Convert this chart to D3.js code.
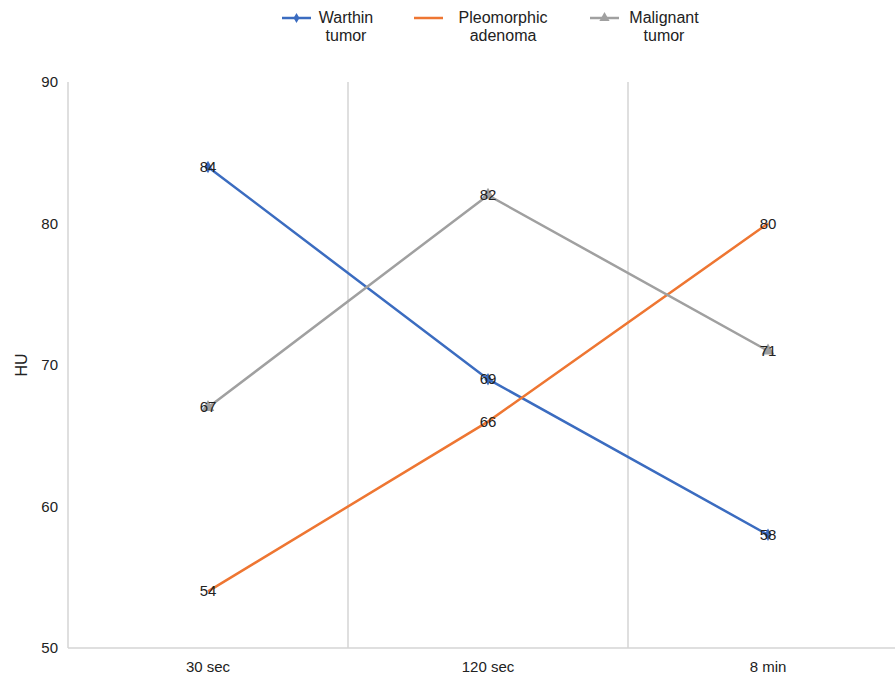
<!DOCTYPE html>
<html>
<head>
<meta charset="utf-8">
<script src="https://cdn.jsdelivr.net/npm/d3@7"></script>
<style>
  body { margin: 0; background: #fff; }
  text { font-family: "Liberation Sans", Arial, sans-serif; fill: #222; }
</style>
</head>
<body>
<script>
let categories = ['30 sec', '120 sec', '8 min']
let warthin = [84, 69, 58]
let pleomorphic = [54, 66, 80]
let malignant = [67, 82, 71]
let yTicks = [50, 60, 70, 80, 90]
let seriesNames = [['Warthin', 'tumor'], ['Pleomorphic', 'adenoma'], ['Malignant', 'tumor']]

let series = [
    {name: seriesNames[0], values: warthin, color: '#3b6cc0', marker: 'diamond'},
    {name: seriesNames[1], values: pleomorphic, color: '#ee7632', marker: 'none'},
    {name: seriesNames[2], values: malignant, color: '#a0a0a0', marker: 'triangle'}
]

let svg = d3.select('body')
    .append('svg')
    .attr('width', 895)
    .attr('height', 674)

let plotLeft = 68, plotTop = 82, plotBottom = 648

let x = d3.scaleBand()
    .domain(categories)
    .range([plotLeft, plotLeft + 840])

let y = d3.scaleLinear()
    .domain([50, 90])
    .range([plotBottom, plotTop])

// vertical separators between categories
categories.slice(1).forEach(c => {
    svg.append('line')
        .attr('x1', x(c)).attr('x2', x(c))
        .attr('y1', plotTop).attr('y2', plotBottom)
        .style('stroke', '#d4d4d4')
        .style('stroke-width', 1.5)
})

svg.append('line')
    .attr('x1', plotLeft).attr('x2', plotLeft)
    .attr('y1', plotTop).attr('y2', plotBottom)
    .style('stroke', '#d4d4d4').style('stroke-width', 1.5)

svg.append('line')
    .attr('x1', plotLeft).attr('x2', plotLeft + 840)
    .attr('y1', plotBottom).attr('y2', plotBottom)
    .style('stroke', '#d4d4d4').style('stroke-width', 1.5)

svg.selectAll('.ytick')
    .data(yTicks)
    .enter()
    .append('text')
    .attr('x', 58)
    .attr('y', d => y(d) + 5)
    .attr('text-anchor', 'end')
    .style('font-size', '15px')
    .text(d => d)

svg.selectAll('.xtick')
    .data(categories)
    .enter()
    .append('text')
    .attr('x', d => x(d) + x.bandwidth() / 2)
    .attr('y', 672)
    .attr('text-anchor', 'middle')
    .style('font-size', '15px')
    .text(d => d)

svg.append('text')
    .attr('transform', 'translate(27,365) rotate(-90)')
    .attr('text-anchor', 'middle')
    .style('font-size', '16px')
    .text('HU')

let cx = d => x(d) + x.bandwidth() / 2
let line = d3.line()
    .x((d, i) => cx(categories[i]))
    .y(d => y(d))

series.forEach(s => {
    svg.append('path')
        .attr('d', line(s.values))
        .style('fill', 'none')
        .style('stroke', s.color)
        .style('stroke-width', 2.5)

    if (s.marker !== 'none') {
        let sym = s.marker === 'diamond' ? d3.symbolDiamond : d3.symbolTriangle
        svg.selectAll(null)
            .data(s.values)
            .enter()
            .append('path')
            .attr('d', d3.symbol().type(sym).size(s.marker === 'diamond' ? 45 : 70))
            .attr('transform', (d, i) => `translate(${cx(categories[i])},${y(d)})`)
            .style('fill', s.color)
    }
})

series.forEach(s => {
    svg.selectAll(null)
        .data(s.values)
        .enter()
        .append('text')
        .attr('x', (d, i) => cx(categories[i]))
        .attr('y', d => y(d) + 5)
        .attr('text-anchor', 'middle')
        .style('font-size', '15px')
        .text(d => d)
})

// legend
let legendX = [282, 414, 590]
let legendText = [346, 503, 664]
series.forEach((s, i) => {
    svg.append('line')
        .attr('x1', legendX[i]).attr('x2', legendX[i] + 29)
        .attr('y1', 18).attr('y2', 18)
        .style('stroke', s.color)
        .style('stroke-width', 2.5)
    if (s.marker !== 'none') {
        let sym = s.marker === 'diamond' ? d3.symbolDiamond : d3.symbolTriangle
        svg.append('path')
            .attr('d', d3.symbol().type(sym).size(s.marker === 'diamond' ? 30 : 45))
            .attr('transform', `translate(${legendX[i] + 14.5},18)`)
            .style('fill', s.color)
    }
    s.name.forEach((t, j) => {
        svg.append('text')
            .attr('x', legendText[i])
            .attr('y', 23 + j * 18)
            .attr('text-anchor', 'middle')
            .style('font-size', '16px')
            .text(t)
    })
})
</script>
</body>
</html>
